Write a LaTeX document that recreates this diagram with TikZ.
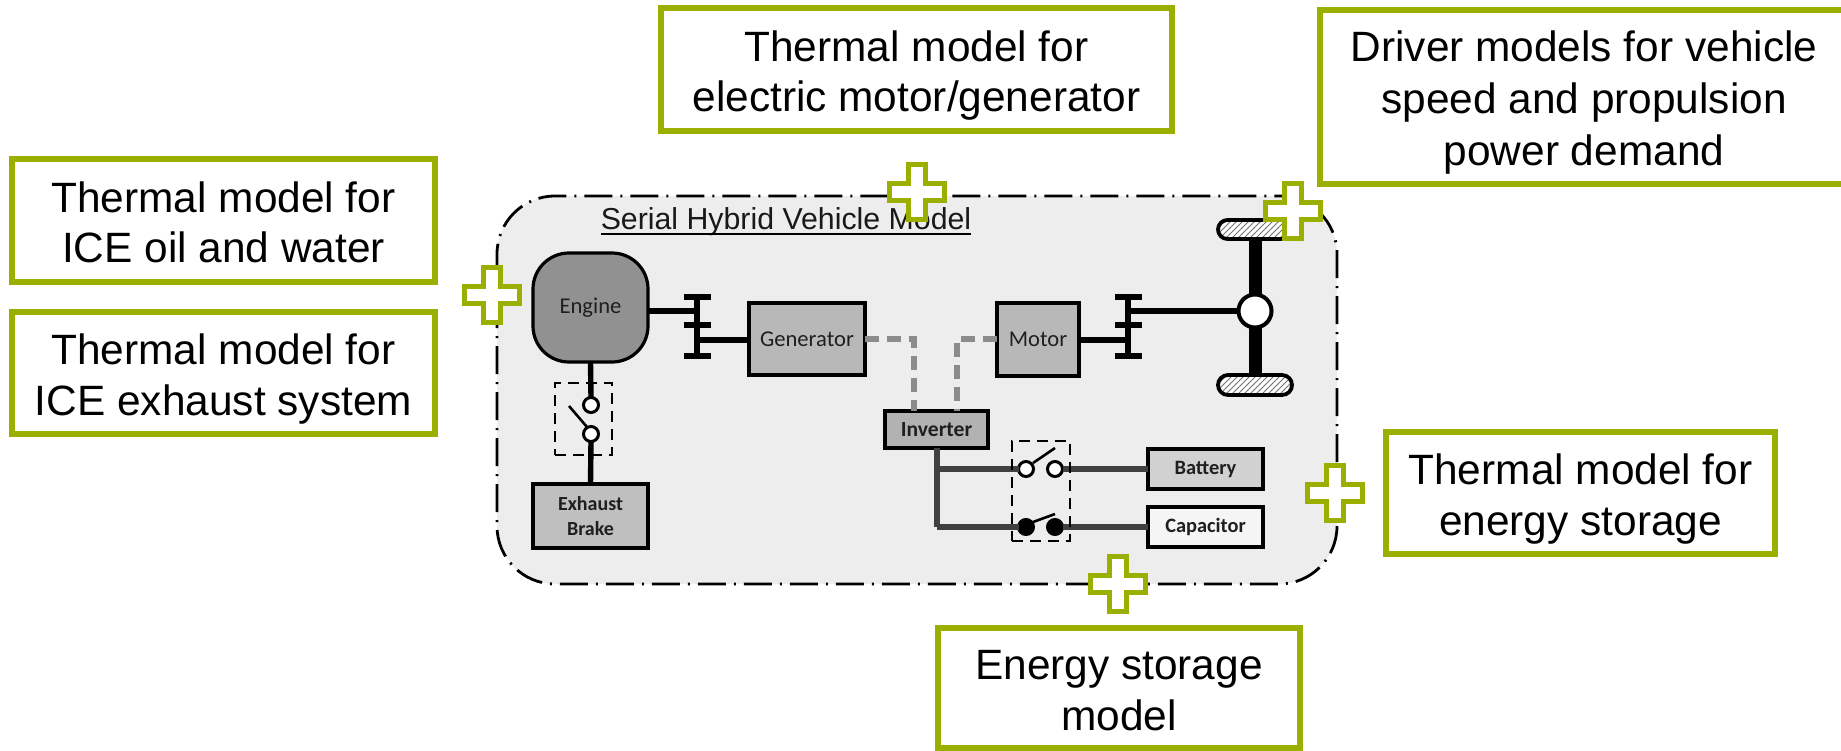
\documentclass[tikz,border=0pt]{standalone}
\usepackage{fontspec}
\setmainfont{Liberation Sans}
\newfontfamily\carl{Carlito}
\usetikzlibrary{patterns,shapes.misc}
\definecolor{grn}{HTML}{9AAF00}
\definecolor{panel}{HTML}{EDEDED}
\definecolor{darkline}{HTML}{404040}
\definecolor{dashline}{HTML}{8C8C8C}
\tikzset{
  lbl/.style={draw=grn,line width=2.75pt,fill=white,align=center,font=\fontsize{21.2}{25.4}\selectfont,text=black},
  comp/.style={draw=black,line width=1.6pt,align=center,text=black!88,font=\carl\fontsize{11.3}{18}\selectfont},
  compb/.style={draw=black,line width=1.6pt,align=center,text=black!88,font=\carl\bfseries\fontsize{10}{12.2}\selectfont},
  smallb/.style={compb,font=\carl\bfseries\fontsize{10.2}{12}\selectfont},
  shaft/.style={draw=black,line width=2.7pt},
  gearbar/.style={draw=black,line width=3pt},
  elec/.style={draw=darkline,line width=3pt},
  ac/.style={draw=dashline,line width=2.6pt,dash pattern=on 7pt off 4pt},
  swbox/.style={draw=black,line width=1.1pt,dash pattern=on 5.5pt off 3.5pt,fill=none},
  swopen/.style={circle,draw=black,line width=1.5pt,fill=white,minimum size=7.5pt,inner sep=0pt,outer sep=0pt},
  swshut/.style={circle,draw=black,line width=1.5pt,fill=black,minimum size=7.5pt,inner sep=0pt,outer sep=0pt},
  lever/.style={draw=black,line width=1.3pt},
  wheel/.style={rounded rectangle,draw=black,line width=1.9pt,preaction={fill=white},pattern=north east lines,pattern color=black!55},
  crossmark/.style={draw=grn,line width=2.75pt,fill=white,line join=miter},
  every node/.append style={inner sep=0pt,outer sep=0pt}
}
\newcommand{\bx}[7]{\node[#6,minimum width={(#4-#2)*0.5pt},minimum height={(#5-#3)*0.5pt}] (#1) at ({(#2+#4)/2},{(#3+#5)/2}) {#7};}
\newcommand{\crossat}[2]{\draw[crossmark,shift={(#1,#2)}] (-8.5,-27.5)--(8.5,-27.5)--(8.5,-8.5)--(27.5,-8.5)--(27.5,8.5)--(8.5,8.5)--(8.5,27.5)--(-8.5,27.5)--(-8.5,8.5)--(-27.5,8.5)--(-27.5,-8.5)--(-8.5,-8.5)--cycle;}
\newcommand{\lb}[2]{\rule{0pt}{21.9pt}#1\\#2\rule[-5pt]{0pt}{5pt}}
\begin{document}
\begin{tikzpicture}[x=0.5pt,y=-0.5pt]
\useasboundingbox (0,0) rectangle (1841,750);
% container
\draw[fill=panel,draw=black,line width=1.4pt,dash pattern=on 14pt off 4pt on 1pt off 4pt,rounded corners=29pt] (497,196) rectangle (1337,584);
\node[anchor=base,font=\fontsize{15.15}{18}\selectfont,text=black!90] (title) at (786,229.5) {Serial Hybrid Vehicle Model};
\draw[black,line width=0.8pt] ([yshift=-2.2pt]title.base west) -- ([yshift=-2.2pt]title.base east);
% reference points
\coordinate (g1) at (697,297); \coordinate (g1m) at (697,325); \coordinate (g1b) at (697,356);
\coordinate (g1a) at (697,311); \coordinate (g1c) at (697,340);
\coordinate (g2) at (1128,297); \coordinate (g2m) at (1128,325); \coordinate (g2b) at (1128,356);
\coordinate (g2a) at (1128,311); \coordinate (g2c) at (1128,340);
\coordinate (j1) at (937,469); \coordinate (j2) at (937,527);
\coordinate (c1) at (914,339); \coordinate (c2) at (957,339);
\coordinate (i1) at (914,411); \coordinate (i2) at (957,411);
\coordinate (l1a) at (569,406); \coordinate (l1b) at (587,427);
\coordinate (l2a) at (1033,463); \coordinate (l2b) at (1055,448);
\coordinate (l3a) at (1033,522); \coordinate (l3b) at (1055,514);
% axle under the wheels
\bx{wheelT}{1218}{220}{1292}{239}{wheel}{}
\bx{wheelB}{1218}{375}{1292}{395}{wheel}{}
\draw[black,line width=6.5pt] (wheelT.south) -- (wheelB.north);
% components
\bx{engine}{533}{253}{648}{362}{comp,fill=black!43,rounded corners=18pt}{Engine}
\bx{generator}{749}{303}{865}{375}{comp,fill=black!28}{Generator}
\bx{motor}{997}{303}{1079}{376}{comp,fill=black!28}{Motor}
\bx{inverter}{885}{411}{988}{448}{compb,font=\carl\bfseries\fontsize{10.8}{12}\selectfont,fill=black!30}{Inverter}
\bx{brake}{533}{484}{648}{548}{compb,fill=black!25}{Exhaust\\Brake}
\bx{battery}{1148}{449}{1263}{489}{smallb,fill=black!18}{Battery}
\bx{capacitor}{1148}{507}{1263}{547}{smallb,fill=black!4}{Capacitor}
% gears
\draw[gearbar] (g1) -- (g1b);
\draw[gearbar] ([xshift=-6.5pt]g1) -- ([xshift=7pt]g1);
\draw[gearbar] ([xshift=-6.5pt]g1m) -- ([xshift=7pt]g1m);
\draw[gearbar] ([xshift=-6.5pt]g1b) -- ([xshift=7pt]g1b);
\draw[gearbar] (g2) -- (g2b);
\draw[gearbar] ([xshift=-6.5pt]g2) -- ([xshift=7pt]g2);
\draw[gearbar] ([xshift=-6.5pt]g2m) -- ([xshift=7pt]g2m);
\draw[gearbar] ([xshift=-6.5pt]g2b) -- ([xshift=7pt]g2b);
% shafts
\draw[shaft] (engine.east |- g1a) -- (g1a);
\draw[shaft] (g1c) -- (generator.west |- g1c);
\draw[shaft] (motor.east |- g2c) -- (g2c);
\node[circle,draw=black,line width=2pt,fill=white,minimum size=16.5pt] (hub) at (1255,311) {};
\draw[shaft] (g2a) -- (hub.west);
% AC links
\draw[ac] (generator.east |- c1) -- (c1) -- (i1);
\draw[ac] (motor.west |- c2) -- (c2) -- (i2);
% DC links
\node[swopen] (s1a) at (591,405) {};
\node[swopen] (s1b) at (591,434) {};
\node[swopen] (s2a) at (1026,469) {};
\node[swopen] (s2b) at (1055,469) {};
\node[swshut] (s3a) at (1026,527) {};
\node[swshut] (s3b) at (1055,527) {};
\draw[shaft] (engine.south) -- (s1a.north);
\draw[shaft] (s1b.south) -- (brake.north);
\draw[lever] (l1a) -- (l1b);
\draw[lever] (l2a) -- (l2b);
\draw[lever] (l3a) -- (l3b);
\draw[elec] (inverter.south -| j1) -- (j2);
\draw[elec] (j1) -- (s2a.west);
\draw[elec] (j2) -- (s3a.west);
\draw[elec] (s2b.east) -- (battery.west |- s2b);
\draw[elec] (s3b.east) -- (capacitor.west |- s3b);
% dashed switch boxes
\bx{swboxA}{555}{383}{612}{455}{swbox}{}
\bx{swboxB}{1012}{441}{1070}{541}{swbox}{}
% crosses
\crossat{917}{192}
\crossat{1293}{211}
\crossat{492}{295}
\crossat{1335}{493}
\crossat{1118}{584}
% labels
\bx{topL}{661}{8}{1172}{131}{lbl}{\lb{Thermal model for}{electric motor/generator}}
\bx{oil}{12}{159}{435}{282}{lbl}{\lb{Thermal model for}{ICE oil and water}}
\bx{exhaust}{12}{312}{435}{434}{lbl}{\lb{Thermal model for}{ICE exhaust system}}
\bx{storageT}{1386}{432}{1775}{554}{lbl}{\lb{Thermal model for}{energy storage}}
\bx{storageM}{938}{628}{1300}{748}{lbl}{\lb{Energy storage}{model}}
% driver box runs off the right edge
\coordinate (d1) at (1841,10); \coordinate (d2) at (1320,10); \coordinate (d3) at (1320,184); \coordinate (d4) at (1841,184);
\fill[white] (d1) -- (d2) -- (d3) -- (d4) -- cycle;
\draw[draw=grn,line width=2.75pt] (d1) -- (d2) -- (d3) -- (d4);
\node[align=center,font=\fontsize{21.2}{26.2}\selectfont,text=black] (driver) at (1584,102.4) {\rule{0pt}{16pt}Driver models for vehicle\\speed and propulsion\\power demand\rule[-5pt]{0pt}{5pt}};
\end{tikzpicture}
\end{document}
